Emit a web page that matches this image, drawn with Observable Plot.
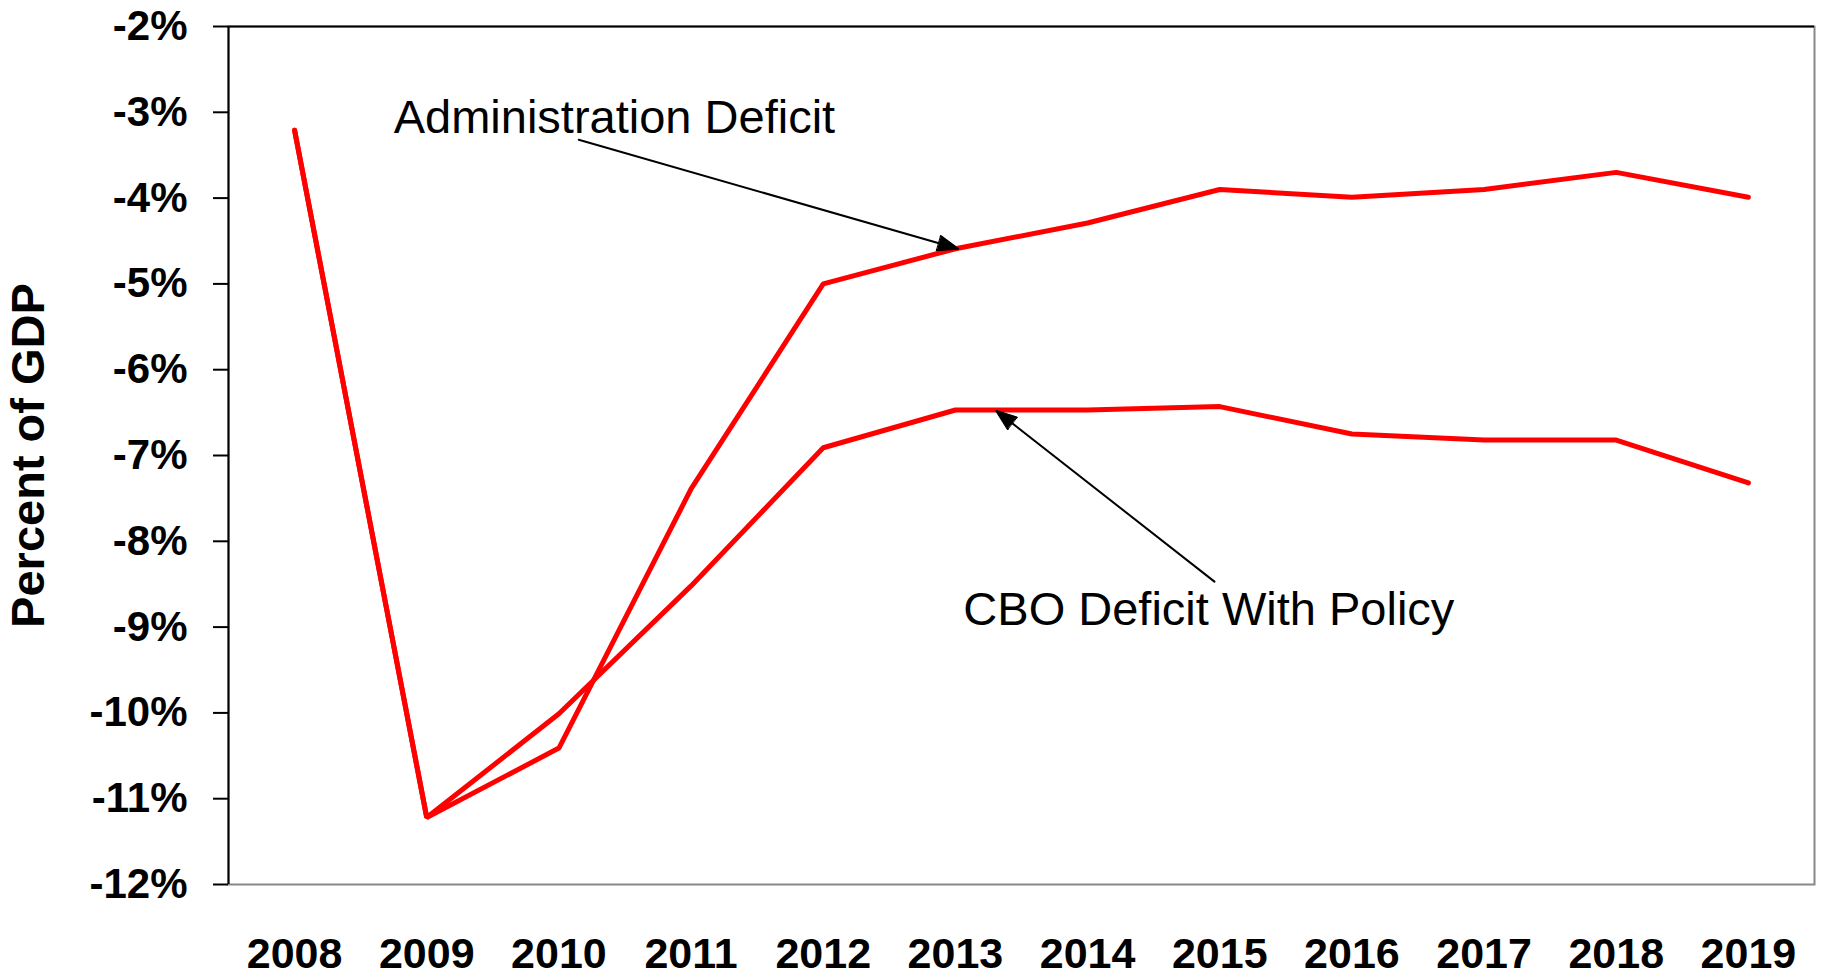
<!DOCTYPE html>
<html><head><meta charset="utf-8">
<script src="https://cdn.jsdelivr.net/npm/d3@7"></script>
<script src="https://cdn.jsdelivr.net/npm/@observablehq/plot@0.6"></script>
<style>
html,body{margin:0;padding:0;background:#fff;}
#chart svg{display:block;}
</style></head><body><div id="chart"></div>
<script>
const years = [2008, 2009, 2010, 2011, 2012, 2013, 2014, 2015, 2016, 2017, 2018, 2019];
const adminDeficit = [-3.21, -11.22, -10.41, -7.39, -5.00, -4.59, -4.29, -3.90, -3.99, -3.90, -3.70, -3.99];
const cboDeficit = [-3.21, -11.22, -10.01, -8.52, -6.91, -6.47, -6.47, -6.43, -6.75, -6.82, -6.82, -7.32];
const seriesNames = ["Administration Deficit", "CBO Deficit With Policy"];
const yTicks = [-12, -11, -10, -9, -8, -7, -6, -5, -4, -3, -2];
const yTitle = "Percent of GDP";
// annotation anchors in data space (year, percent)
const labelYears = [2008.75, 2013.06];
const labelValues = [-3.24, -8.97];
const arrowFromYears = [2010.15, 2014.96];
const arrowFromValues = [-3.32, -8.47];
const arrowToYears = [2013.02, 2013.31];
const arrowToValues = [-4.59, -6.48];

const rows = [
  ...years.map((year, i) => ({year, value: adminDeficit[i], series: seriesNames[0]})),
  ...years.map((year, i) => ({year, value: cboDeficit[i], series: seriesNames[1]}))
];
const labels = seriesNames.map((text, i) => ({text, x: labelYears[i], y: labelValues[i]}));
const arrows = seriesNames.map((s, i) => ({x1: arrowFromYears[i], y1: arrowFromValues[i], x2: arrowToYears[i], y2: arrowToValues[i]}));

const font = '"Liberation Sans", Arial, Helvetica, sans-serif';
const chart = Plot.plot({
  width: 1822,
  height: 978,
  marginLeft: 228,
  marginRight: 8,
  marginTop: 26,
  marginBottom: 94,
  style: {fontFamily: font, background: "#fff", color: "#000"},
  x: {type: "linear", domain: [2007.5, 2019.5]},
  y: {domain: [-12, -2]},
  marks: [
    Plot.frame({stroke: "#888", strokeWidth: 2}),
    Plot.ruleY([-2], {stroke: "#000", strokeWidth: 2}),
    Plot.ruleX([2007.5], {stroke: "#000", strokeWidth: 2}),
    Plot.axisX({ticks: years, tickFormat: d => String(d), tickSize: 0, tickPadding: 53, fontSize: 43, fontWeight: "bold", label: null}),
    Plot.axisY({ticks: yTicks, tickFormat: d => `${d}%`, tickSize: 15, tickPadding: 26, fontSize: 42, fontWeight: "bold", strokeWidth: 2, label: null}),
    Plot.line(rows, {x: "year", y: "value", z: "series", stroke: "#ff0000", strokeWidth: 5, strokeLinejoin: "miter", strokeLinecap: "round"}),
    Plot.arrow(arrows, {x1: "x1", y1: "y1", x2: "x2", y2: "y2", stroke: "#000", strokeWidth: 2, headLength: 16, headAngle: 40}),
    Plot.text(labels, {x: "x", y: "y", text: "text", textAnchor: "start", lineAnchor: "bottom", fontSize: 47, fill: "#000"}),
    Plot.text([yTitle], {frameAnchor: "left", dx: -200, rotate: -90, textAnchor: "middle", fontSize: 47, fontWeight: "bold", fill: "#000"})
  ]
});
document.getElementById("chart").appendChild(chart);

// fill the arrowheads like the reference's solid triangles
d3.select(chart).selectAll('g[aria-label="arrow"] path').each(function () {
  const d = this.getAttribute("d") || "";
  const m = d.match(/M([^M]*)$/);
  if (!m) return;
  const head = "M" + m[1] + "Z";
  d3.select(this.parentNode).append("path")
    .attr("d", head)
    .attr("fill", "#000")
    .attr("stroke", "#000")
    .attr("stroke-width", 1)
    .attr("stroke-linejoin", "miter");
});
</script>
</body></html>
